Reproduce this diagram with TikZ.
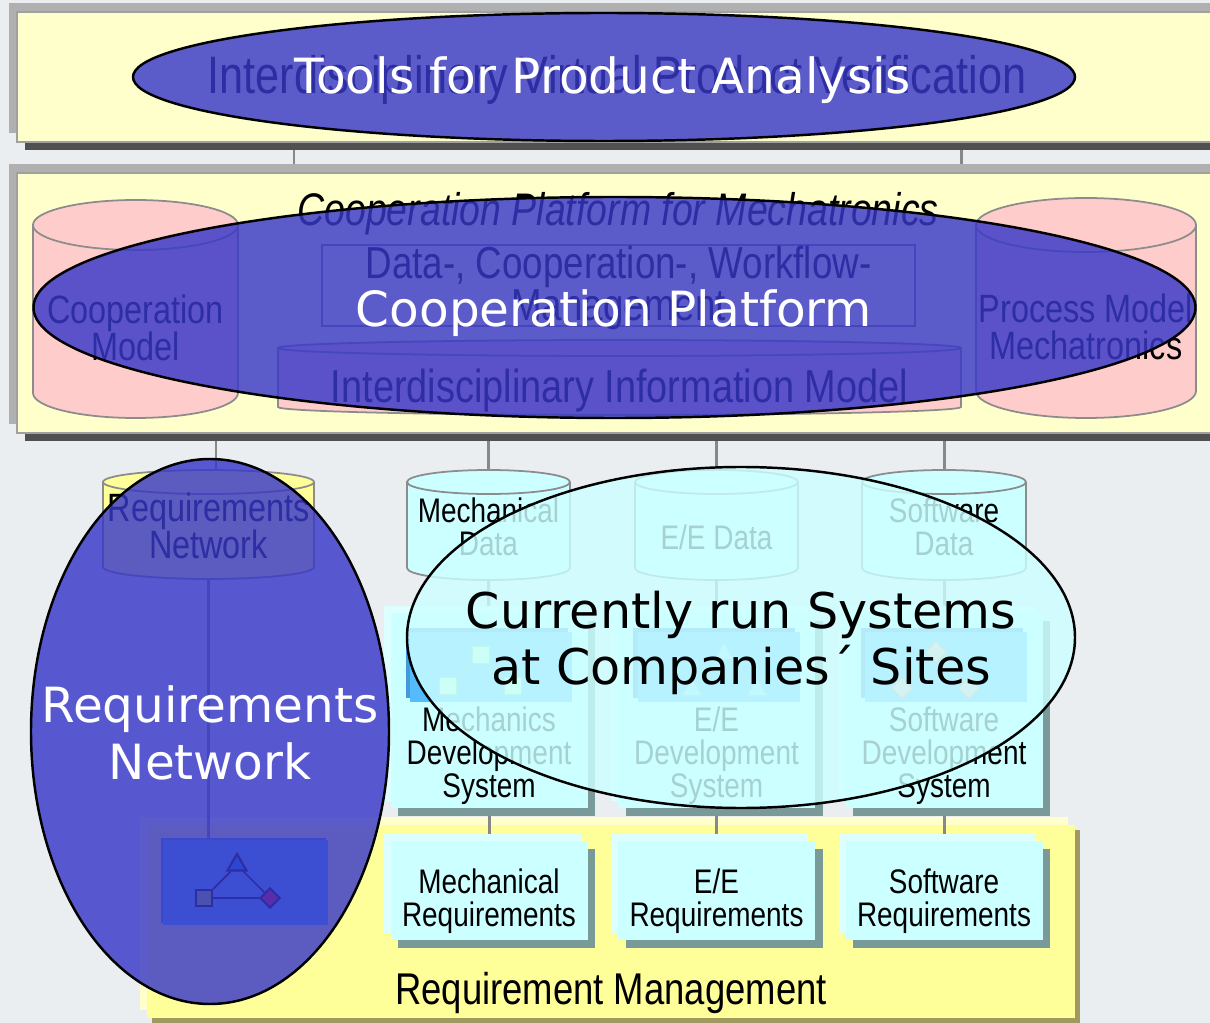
\documentclass[tikz,border=0pt]{standalone}
\usepackage{fontspec}
\setmainfont{Liberation Sans}[FakeStretch=0.82]
\newfontfamily\ovalfont{DejaVu Sans}
\usetikzlibrary{shapes.geometric,shadows}
\pgfdeclarelayer{bglayer}
\pgfdeclarelayer{linklayer}
\pgfsetlayers{bglayer,linklayer,main}
\definecolor{canvas}{HTML}{EBEEF1}
\definecolor{paneltop}{HTML}{FFFFCC}
\definecolor{panellight}{HTML}{B0B0B0}
\definecolor{paneldark}{HTML}{505050}
\definecolor{panelline}{HTML}{A0A0A0}
\definecolor{linkgray}{HTML}{888888}
\definecolor{drumline}{HTML}{8C8C8C}
\definecolor{rose}{HTML}{FFCCCC}
\definecolor{aqua}{HTML}{CCFFFF}
\definecolor{aqualight}{HTML}{DDFFFF}
\definecolor{aquadark}{HTML}{7A9A9A}
\definecolor{lemon}{HTML}{FFFF99}
\definecolor{lemonlight}{HTML}{FFFFCC}
\definecolor{lemondark}{HTML}{A09A60}
\definecolor{iconblue}{HTML}{55BBFF}
\definecolor{iconshade}{HTML}{4499DD}
\definecolor{mechfill}{HTML}{CCFFCC}
\definecolor{mechline}{HTML}{99CC99}
\definecolor{eefill}{HTML}{99DDFF}
\definecolor{eeline}{HTML}{77BBEE}
\definecolor{swfill}{HTML}{FFBBBB}
\definecolor{swline}{HTML}{CC9999}
\definecolor{iconline}{HTML}{99AAAA}
\definecolor{sqgreen}{HTML}{A0D040}
\definecolor{tricyan}{HTML}{008BFF}
\definecolor{diared}{HTML}{FF0033}
\definecolor{ovalblue}{RGB}{55,55,201}
\definecolor{ovalaqua}{HTML}{CCFFFF}
\newcommand{\pxl}{0.02cm}
% cylinder: left, right, top, bottom, cap, fill
\newcommand{\drum}[6]{%
  \filldraw[draw=drumline,line width=1pt,fill=#6] (#1,-#3-#5) -- (#1,-#4+#5)
    arc[start angle=180,end angle=360,x radius={(#2-#1)/2},y radius=#5]
    -- (#2,-#3-#5)
    arc[start angle=0,end angle=180,x radius={(#2-#1)/2},y radius=#5] -- cycle;
  \draw[drumline,line width=1pt] (#1,-#3-#5)
    arc[start angle=180,end angle=360,x radius={(#2-#1)/2},y radius=#5];
}
\begin{document}
\begin{tikzpicture}[x=0.02cm,y=0.02cm,
  panel/.style={draw=panelline,fill=paneltop,line width=0.8pt,inner sep=0,
    general shadow={fill=panellight,shadow xshift=-4.5pt,shadow yshift=5pt},
    general shadow={fill=paneldark,shadow xshift=4.5pt,shadow yshift=-4.5pt}},
  devbox/.style={fill=aqua,inner sep=0,minimum width={197*\pxl},minimum height={195*\pxl},
    general shadow={fill=aqualight,shadow xshift=-3.8pt,shadow yshift=3.8pt},
    general shadow={fill=aquadark,shadow xshift=4.5pt,shadow yshift=-4.8pt}},
  reqbox/.style={devbox,minimum height={99*\pxl}},
  pane/.style={fill=iconblue,inner sep=0,minimum width={162*\pxl},minimum height={70*\pxl},
    general shadow={fill=iconshade,shadow xshift=-2.5pt,shadow yshift=2.5pt}},
  lbl/.style={align=center,inner sep=0,font=\fontsize{19.4}{18.7}\selectfont},
  biglbl/.style={align=center,inner sep=0,font=\fontsize{22.5}{21}\selectfont},
  link/.style={draw=linkgray,line width=1.7pt},
  oval/.style={ellipse,draw=black,line width=1.4pt,fill opacity=0.82,inner sep=0},
  ovaltext/.style={align=center,inner sep=0,font=\ovalfont\fontsize{27.6}{32.3}\selectfont},
  mechsq/.style={rectangle,draw=mechline,fill=mechfill,line width=0.9pt,minimum size={17*\pxl},inner sep=0},
  eetri/.style={regular polygon,regular polygon sides=3,draw=eeline,fill=eefill,line width=0.9pt,minimum size={24*\pxl},inner sep=0},
  swdia/.style={diamond,draw=swline,fill=swfill,line width=0.9pt,minimum size={22*\pxl},inner sep=0},
  iconlink/.style={draw=iconline,line width=1pt}]
\useasboundingbox (0,0) rectangle (1210,-1023);
\clip (0,0) rectangle (1210,-1023);
\begin{pgfonlayer}{bglayer}
  \fill[canvas] (0,0) rectangle (1210,-1023);
  % requirement management panel
  \node[fill=lemon,inner sep=0,minimum width={928*\pxl},minimum height={193*\pxl},
    general shadow={fill=lemonlight,shadow xshift=-4pt,shadow yshift=4.5pt},
    general shadow={fill=lemondark,shadow xshift=3pt,shadow yshift=-3pt}] (reqmgmt) at (611,-921.5) {};
\end{pgfonlayer}

% verification and cooperation platform
\node[panel,minimum width={1203*\pxl},minimum height={130*\pxl}] (verif) at (618.5,-77) {};
\node[inner sep=0,font=\fontsize{30}{32}\selectfont] (veriftext) at (617,-80) {Interdisciplinary Virtual Product Verification};
\node[panel,minimum width={1203*\pxl},minimum height={260*\pxl}] (coop) at (618.5,-303) {};
\node[inner sep=0,font=\itshape\fontsize{26}{28}\selectfont] (cooptitle) at (618,-214) {Cooperation Platform for Mechatronics};
\node[draw=linkgray,fill=paneltop,line width=0.8pt,minimum width={593*\pxl},minimum height={81*\pxl},inner sep=0] (datamgmt) at (618.5,-285.5) {};
\node[inner sep=0,align=center,font=\fontsize{25.5}{22.7}\selectfont] (datamgmttext) at (618.5,-288) {Data-, Cooperation-, Workflow-\\Management};
\drum{33}{238}{200}{418}{25}{rose}
\node[biglbl] (coopmodel) at (135.5,-328) {Cooperation\\Model};
\drum{976}{1196}{198}{418}{27}{rose}
\node[biglbl] (procmodel) at (1086,-327) {Process Model\\Mechatronics};
\drum{278}{961}{340}{415}{8}{rose}
\node[inner sep=0,font=\fontsize{26.3}{28}\selectfont] (infomodel) at (619.5,-391) {Interdisciplinary Information Model};

% data cylinders
\drum{103}{314}{470}{579}{12}{lemon}
\node[biglbl] (reqnet) at (208.5,-526) {Requirements\\Network};
\drum{407}{570}{470}{580}{12}{aqua}
\node[lbl] (mechdata) at (488.5,-527) {Mechanical\\Data};
\drum{635}{798}{470}{580}{12}{aqua}
\node[lbl] (eedata) at (716.5,-537) {E/E Data};
\drum{862}{1026}{470}{580}{12}{aqua}
\node[lbl] (swdata) at (944,-527) {Software\\Data};

% development systems
\node[devbox] (mechdev) at (489,-710.5) {};
\node[devbox] (eedev) at (716.5,-710.5) {};
\node[devbox] (swdev) at (944,-710.5) {};
\node[pane] (mechpane) at (491,-667) {};
\node[pane] (eepane) at (718.5,-667) {};
\node[pane] (swpane) at (946,-667) {};
\node[lbl] (mechdevtext) at (489,-756) {Mechanics\\Development\\System};
\node[lbl] (eedevtext) at (716.5,-756) {E/E\\Development\\System};
\node[lbl] (swdevtext) at (944,-756) {Software\\Development\\System};
\node[mechsq] (msqa) at (448,-686) {};
\node[mechsq] (msqb) at (481,-655) {};
\node[mechsq] (msqc) at (513,-686) {};
\draw[iconlink] (msqa) -- (msqb) -- (msqc);
\node[eetri] (etria) at (692,-690) {};
\node[eetri] (etrib) at (724,-654) {};
\node[eetri] (etric) at (757,-690) {};
\draw[iconlink] (etria) -- (etrib) -- (etric);
\node[swdia] (sdiaa) at (902,-688) {};
\node[swdia] (sdiab) at (936,-652) {};
\node[swdia] (sdiac) at (969,-688) {};
\draw[iconlink] (sdiaa) -- (sdiab) -- (sdiac);

% requirements
\node[reqbox] (mechreq) at (489,-890.5) {};
\node[reqbox] (eereq) at (716.5,-890.5) {};
\node[reqbox] (swreq) at (944,-890.5) {};
\node[lbl] (mechreqtext) at (489,-901) {Mechanical\\Requirements};
\node[lbl] (eereqtext) at (716.5,-901) {E/E\\Requirements};
\node[lbl] (swreqtext) at (944,-901) {Software\\Requirements};
\node[inner sep=0,font=\fontsize{25.3}{27}\selectfont] (reqmgmttext) at (611,-993) {Requirement Management};
\node[fill=iconblue,inner sep=0,minimum width={165*\pxl},minimum height={85*\pxl},
  general shadow={fill=iconshade,shadow xshift=-1.2pt,shadow yshift=1.2pt}] (reqicon) at (245.5,-882.5) {};
\node[rectangle,draw=black,fill=sqgreen,line width=1.2pt,minimum size={16*\pxl},inner sep=0] (rsq) at (204,-898) {};
\node[regular polygon,regular polygon sides=3,draw=black,fill=tricyan,line width=1.2pt,minimum size={22*\pxl},inner sep=0] (rtri) at (237,-865) {};
\node[diamond,draw=black,fill=diared,line width=1.2pt,minimum size={20*\pxl},inner sep=0] (rdia) at (270,-898) {};
\draw[line width=1pt] (rsq) -- (rdia) (rsq) -- (rtri) -- (rdia);

% connectors
\coordinate (tapa) at (294,0);
\coordinate (tapb) at (961,0);
\coordinate (tapc) at (216,0);
\begin{pgfonlayer}{linklayer}
  \draw[link] (verif.south -| tapa) -- (coop.north -| tapa);
  \draw[link] (verif.south -| tapb) -- (coop.north -| tapb);
  \draw[link] (coop.south -| tapc) -- (reqnet.north -| tapc);
  \draw[link] (coop.south -| mechdata) -- (mechdata);
  \draw[link] (coop.south -| eedata) -- (eedata);
  \draw[link] (coop.south -| swdata) -- (swdata);
  \draw[link] (reqnet) -- (reqnet |- reqicon.north);
  \draw[link] (mechdata) -- (mechdev);
  \draw[link] (eedata) -- (eedev);
  \draw[link] (swdata) -- (swdev);
  \draw[link] (mechdev) -- (mechreq);
  \draw[link] (eedev) -- (eereq);
  \draw[link] (swdev) -- (swreq);
\end{pgfonlayer}

% overlays
\node[oval,fill=ovalblue,minimum width={942*\pxl},minimum height={128*\pxl}] (toolsoval) at (604,-77) {};
\node[ovaltext,text=white] (toolstext) at (603,-80) {Tools for Product Analysis};
\node[oval,fill=ovalblue,minimum width={1162*\pxl},minimum height={221*\pxl}] (coopoval) at (614.5,-307.5) {};
\node[ovaltext,text=white] (coopovaltext) at (614,-313) {Cooperation Platform};
\node[oval,fill=ovalblue,minimum width={358*\pxl},minimum height={545*\pxl}] (reqoval) at (210,-731.5) {};
\node[ovaltext,text=white] (reqovaltext) at (210,-733) {Requirements\\Network};
\node[oval,fill=ovalaqua,minimum width={668*\pxl},minimum height={341*\pxl}] (sitesoval) at (741,-637.5) {};
\node[ovaltext,text=black,font=\ovalfont\fontsize{28}{31.7}\selectfont] (sitestext) at (741,-643) {Currently run Systems\\at Companies´ Sites};
\end{tikzpicture}
\end{document}
